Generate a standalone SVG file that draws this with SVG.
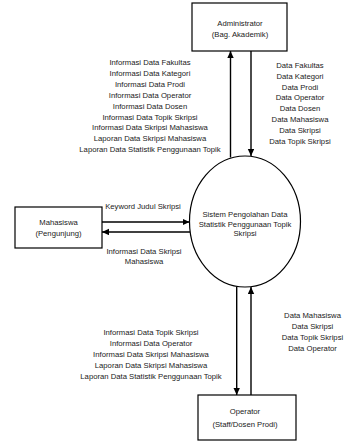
<svg xmlns="http://www.w3.org/2000/svg" width="344" height="441" viewBox="0 0 344 441">
  <style>
    .box { fill: #ffffff; stroke: #000000; stroke-width: 1.2; }
    .flow { fill: none; stroke: #000000; stroke-width: 1.4; marker-end: url(#arrow); }
    text { font-family: "Liberation Sans", Arial, sans-serif; font-size: 7.7px; fill: #1a1a1a; text-anchor: middle; }
  </style>
  <defs>
    <marker id="arrow" markerUnits="userSpaceOnUse" markerWidth="8" markerHeight="7" refX="7" refY="3.2" orient="auto">
      <path d="M0,0 L7,3.2 L0,6.4 z" fill="#000000"/>
    </marker>
  </defs>
  <rect width="344" height="441" fill="#ffffff"/>

  <!-- external entity: Administrator -->
  <g id="administrator">
    <rect class="box" x="192" y="3" width="95" height="48"/>
    <text x="240" y="25.5">Administrator</text>
    <text x="240" y="36.5">(Bag. Akademik)</text>
  </g>

  <!-- external entity: Mahasiswa -->
  <g id="mahasiswa">
    <rect class="box" x="15" y="207" width="87" height="41"/>
    <text x="58.5" y="224.5">Mahasiswa</text>
    <text x="58.5" y="235.5">(Pengunjung)</text>
  </g>

  <!-- external entity: Operator -->
  <g id="operator">
    <rect class="box" x="198" y="395" width="98" height="45"/>
    <text x="245" y="414">Operator</text>
    <text x="245" y="427">(Staff/Dosen Prodi)</text>
  </g>

  <!-- process -->
  <g id="sistem">
    <ellipse class="box" cx="245" cy="221.5" rx="55.5" ry="65.5"/>
    <text x="245" y="216.8">Sistem Pengolahan Data</text>
    <text x="245" y="226.5">Statistik Penggunaan Topik</text>
    <text x="245" y="236.2">Skripsi</text>
  </g>

  <!-- data flows -->
  <g id="connectors">
    <line class="flow" x1="230.5" y1="157.5" x2="230.5" y2="51"/>
    <line class="flow" x1="251" y1="51" x2="251" y2="156"/>
    <line class="flow" x1="102" y1="222" x2="189.5" y2="222"/>
    <line class="flow" x1="190" y1="232" x2="102" y2="232"/>
    <line class="flow" x1="236.7" y1="286.5" x2="236.7" y2="395"/>
    <line class="flow" x1="251" y1="395" x2="251" y2="287"/>
  </g>

  <!-- flow labels: system to Administrator -->
  <g id="label-admin-out">
    <text x="150" y="65">Informasi Data Fakultas</text>
    <text x="150" y="75.9">Informasi Data Kategori</text>
    <text x="150" y="86.8">Informasi Data Prodi</text>
    <text x="150" y="97.7">Informasi Data Operator</text>
    <text x="150" y="108.6">Informasi Data Dosen</text>
    <text x="150" y="119.5">Informasi Data Topik Skripsi</text>
    <text x="150" y="130.4">Informasi Data Skripsi Mahasiswa</text>
    <text x="150" y="141.3">Laporan Data Skripsi Mahasiswa</text>
    <text x="150" y="152.2">Laporan Data Statistik Penggunaan Topik</text>
  </g>

  <!-- flow labels: Administrator to system -->
  <g id="label-admin-in">
    <text x="300" y="68">Data Fakultas</text>
    <text x="300" y="78.8">Data Kategori</text>
    <text x="300" y="89.6">Data Prodi</text>
    <text x="300" y="100.4">Data Operator</text>
    <text x="300" y="111.2">Data Dosen</text>
    <text x="300" y="122">Data Mahasiswa</text>
    <text x="300" y="132.8">Data Skripsi</text>
    <text x="300" y="143.6">Data Topik Skripsi</text>
  </g>

  <!-- flow labels: Mahasiswa -->
  <g id="label-mahasiswa">
    <text x="143" y="209">Keyword Judul Skripsi</text>
    <text x="144" y="253.5">Informasi Data Skripsi</text>
    <text x="144" y="263.5">Mahasiswa</text>
  </g>

  <!-- flow labels: system to Operator -->
  <g id="label-operator-out">
    <text x="151" y="334.5">Informasi Data Topik Skripsi</text>
    <text x="151" y="345.7">Informasi Data Operator</text>
    <text x="151" y="356.9">Informasi Data Skripsi Mahasiswa</text>
    <text x="151" y="368.1">Laporan Data Skripsi Mahasiswa</text>
    <text x="151" y="379.3">Laporan Data Statistik Penggunaan Topik</text>
  </g>

  <!-- flow labels: Operator to system -->
  <g id="label-operator-in">
    <text x="312.5" y="318">Data Mahasiswa</text>
    <text x="312.5" y="329">Data Skripsi</text>
    <text x="312.5" y="340">Data Topik Skripsi</text>
    <text x="312.5" y="351">Data Operator</text>
  </g>
</svg>
